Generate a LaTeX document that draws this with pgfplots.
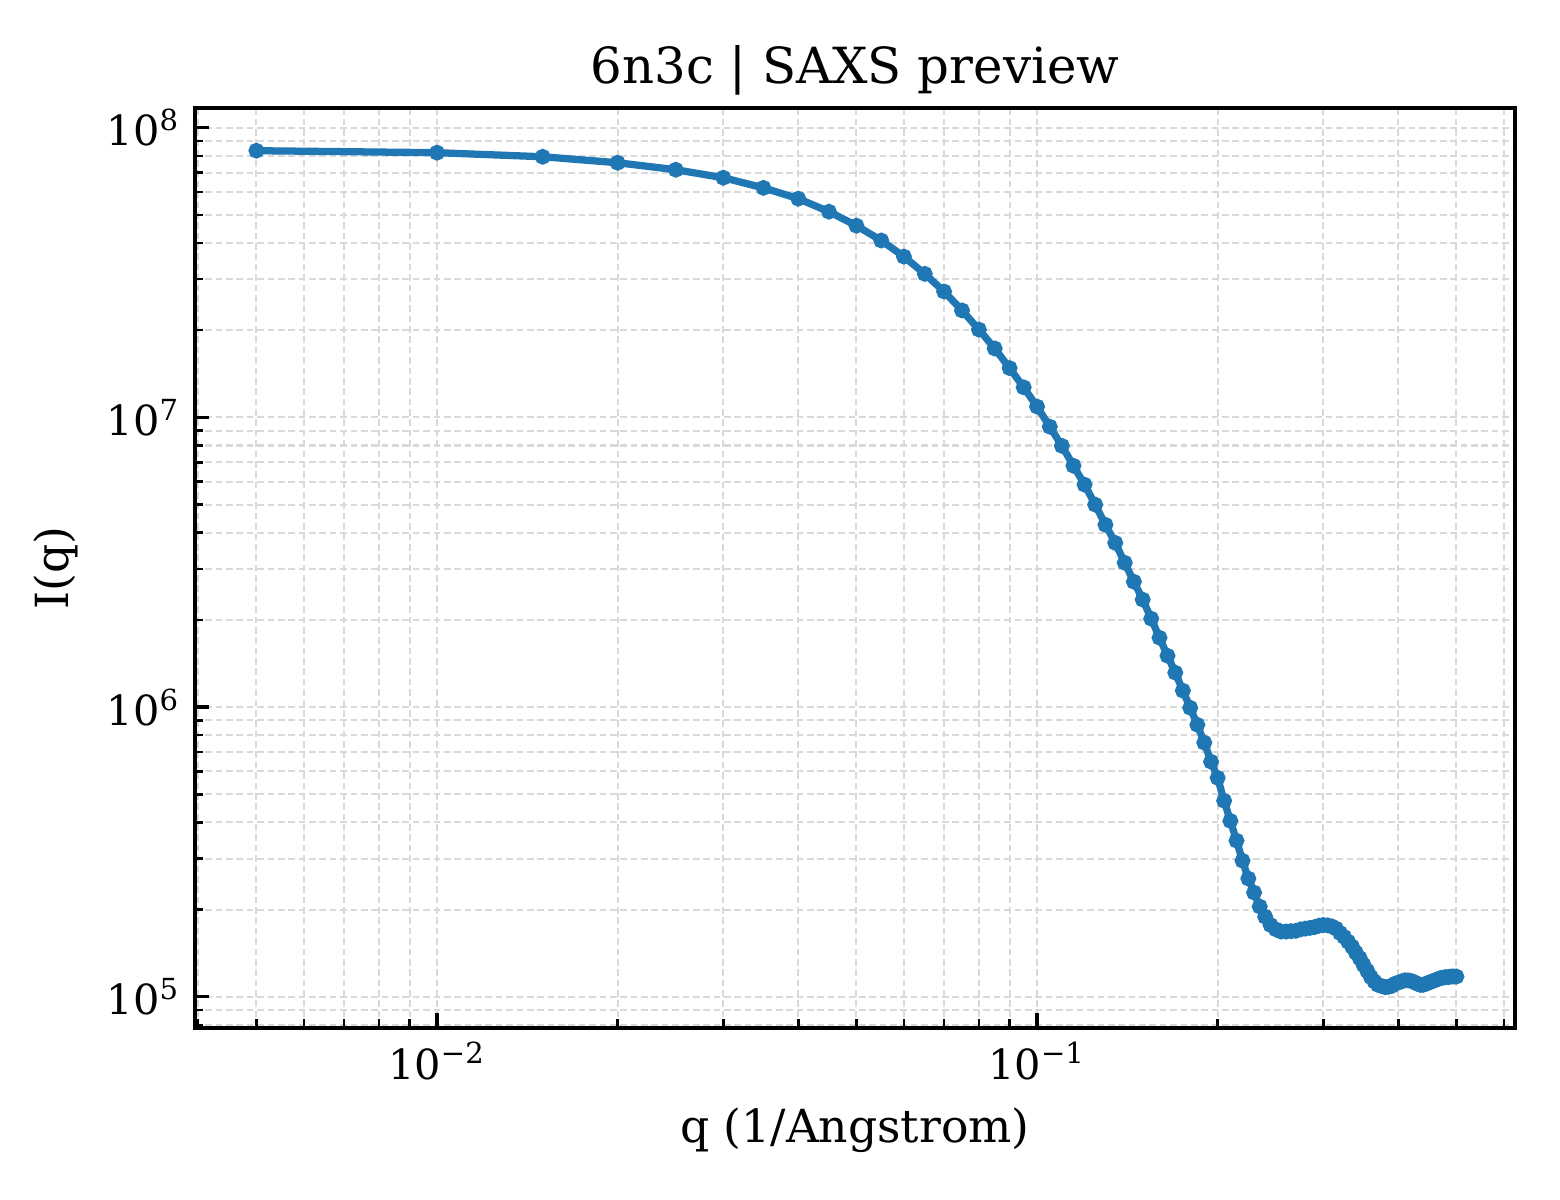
\documentclass[border=0pt]{standalone}
\usepackage{fontspec}
\setmainfont{DejaVu Serif}
\usepackage{pgfplots}
\pgfplotsset{compat=1.18}
\definecolor{mplblue}{HTML}{1F77B4}
\definecolor{gridgray}{HTML}{D9D9D9}

\begin{document}
\begin{tikzpicture}
\begin{axis}[
    scale only axis,
    width=11.18cm, height=7.79cm,
    xmode=log, ymode=log,
    xmin=0.00395, xmax=0.626,
    ymin=78200, ymax=1.17e8,
    axis line style={line width=1pt},
    tick align=inside,
    xtick pos=bottom, ytick pos=left,
    major tick length=3.5pt, minor tick length=2pt,
    every major tick/.append style={line width=0.8pt, black},
    every minor tick/.append style={line width=0.6pt, black},
    xtick={0.01,0.1},
    xticklabels={10\textsuperscript{−2},10\textsuperscript{−1}},
    minor xtick={0.004,0.005,0.006,0.007,0.008,0.009,
                 0.02,0.03,0.04,0.05,0.06,0.07,0.08,0.09,
                 0.2,0.3,0.4,0.5,0.6},
    ytick={1e5,1e6,1e7,1e8},
    yticklabels={10\textsuperscript{5},10\textsuperscript{6},10\textsuperscript{7},10\textsuperscript{8}},
    minor ytick={8e4,9e4,
                 2e5,3e5,4e5,5e5,6e5,7e5,8e5,9e5,
                 2e6,3e6,4e6,5e6,6e6,7e6,8e6,9e6,
                 2e7,3e7,4e7,5e7,6e7,7e7,8e7,9e7},
    grid=both,
    major grid style={gridgray, line width=0.5pt, dash pattern=on 1.6pt off 0.9pt},
    minor grid style={gridgray, line width=0.5pt, dash pattern=on 1.6pt off 0.9pt},
    tick label style={font=\fontsize{10}{12}\selectfont},
    label style={font=\fontsize{11}{13}\selectfont},
    title style={font=\fontsize{12}{14}\selectfont, yshift=-6.5pt},
    title={6n3c | SAXS preview},
    xlabel={q (1/Angstrom)},
    ylabel={I(q)},
]
\addplot[mplblue, line width=1.75pt, mark=*, mark size=1pt,
         mark options={solid, fill=mplblue, draw=mplblue}] table {
q       I
0.005   8.33e7
0.010   8.20e7
0.015   7.94e7
0.020   7.57e7
0.025   7.16e7
0.030   6.72e7
0.035   6.20e7
0.040   5.69e7
0.045   5.13e7
0.050   4.59e7
0.055   4.08e7
0.060   3.59e7
0.065   3.13e7
0.070   2.72e7
0.075   2.34e7
0.080   2.01e7
0.085   1.73e7
0.090   1.48e7
0.095   1.27e7
0.100   1.09e7
0.105   9.29e6
0.110   7.98e6
0.115   6.81e6
0.120   5.86e6
0.125   5.00e6
0.130   4.26e6
0.135   3.69e6
0.140   3.15e6
0.145   2.71e6
0.150   2.35e6
0.155   2.02e6
0.160   1.736e6
0.165   1.504e6
0.170   1.315e6
0.175   1.14e6
0.180   9.95e5
0.185   8.69e5
0.190   7.54e5
0.195   6.48e5
0.200   5.70e5
0.205   4.75e5
0.210   4.05e5
0.215   3.46e5
0.220   2.95e5
0.225   2.56e5
0.230   2.29e5
0.235   2.05e5
0.240   1.89e5
0.245   1.77e5
0.250   1.71e5
0.255   1.68e5
0.260   1.68e5
0.265   1.685e5
0.270   1.69e5
0.275   1.71e5
0.280   1.72e5
0.285   1.73e5
0.290   1.74e5
0.295   1.76e5
0.300   1.77e5
0.305   1.765e5
0.310   1.75e5
0.315   1.72e5
0.320   1.66e5
0.325   1.61e5
0.330   1.55e5
0.335   1.49e5
0.340   1.42e5
0.345   1.36e5
0.350   1.29e5
0.355   1.23e5
0.360   1.17e5
0.365   1.13e5
0.370   1.10e5
0.375   1.09e5
0.380   1.08e5
0.385   1.083e5
0.390   1.09e5
0.395   1.11e5
0.400   1.12e5
0.405   1.13e5
0.410   1.14e5
0.415   1.14e5
0.420   1.135e5
0.425   1.125e5
0.430   1.11e5
0.435   1.10e5
0.440   1.10e5
0.445   1.11e5
0.450   1.12e5
0.455   1.13e5
0.460   1.14e5
0.465   1.15e5
0.470   1.16e5
0.475   1.165e5
0.480   1.17e5
0.485   1.17e5
0.490   1.175e5
0.495   1.175e5
0.500   1.175e5
};
\coordinate (bl) at (rel axis cs:0,0);
\coordinate (tr) at (rel axis cs:1,1);
\end{axis}
\pgfresetboundingbox
\useasboundingbox ([xshift=-0.65in, yshift=-0.5733in]bl) rectangle ([xshift=0.15in, yshift=0.36in]tr);
\end{tikzpicture}
\end{document}
